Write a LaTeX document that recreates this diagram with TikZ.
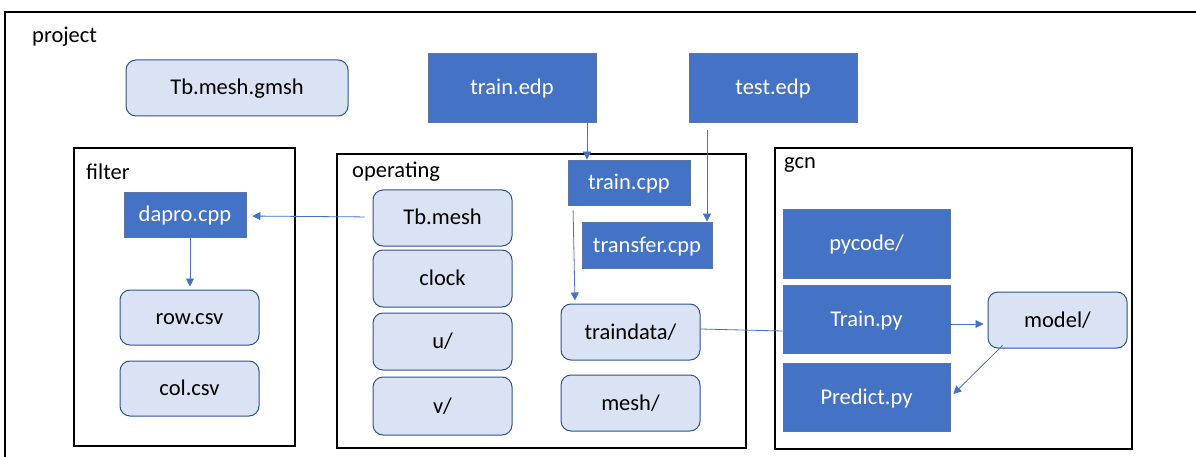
\documentclass[tikz,border=0pt]{standalone}
\usepackage{fontspec}
\setmainfont{Carlito}
\usetikzlibrary{arrows.meta}
\definecolor{accent}{HTML}{4472C4}
\definecolor{accentdark}{HTML}{2F528F}
\definecolor{pale}{HTML}{DAE3F3}
\tikzset{
  every node/.style={font=\fontsize{22.5}{26}\selectfont, inner sep=0pt},
  group/.style={draw=black, line width=1.3pt, fill=none},
  grouplabel/.style={anchor=west, text=black},
  boxtext/.style={text height=18pt, text depth=4pt},
  filebox/.style={boxtext, draw=accentdark!80, line width=0.8pt, fill=accent, text=white},
  dirbox/.style={boxtext, draw=accentdark, line width=1pt, fill=pale, text=black, rounded corners=10pt},
  arr/.style={draw=accent, line width=0.8pt, -{Triangle[length=8pt,width=8pt]}},
  link/.style={draw=accent, line width=0.8pt},
}
\begin{document}
\begin{tikzpicture}[x=1pt,y=-1pt]
\useasboundingbox (0,0) rectangle (1196,457);

% outer frame
\draw[group] (5,470) -- (5,12) -- (1210,12);
\node[grouplabel] (lproject) at (32,37) {project};

% group frames
\draw[group] (74,148) rectangle (295,446);
\node[grouplabel] (lfilter) at (86,172) {filter};
\draw[group] (337,154) rectangle (746,448);
\node[grouplabel] (loperating) at (352,172) {operating};
\draw[group] (775,148) rectangle (1132,449);
\node[grouplabel] (lgcn) at (784,165) {gcn};

% top level items
\node[dirbox, minimum width=222pt, minimum height=56pt] (gmsh) at (237,88) {Tb.mesh.gmsh};
\node[filebox, minimum width=168pt, minimum height=69pt] (trainedp) at (512,87.5) {train.edp};
\node[filebox, minimum width=168pt, minimum height=69pt] (testedp) at (773,87.5) {test.edp};

% filter
\node[filebox, minimum width=122pt, minimum height=45pt] (dapro) at (185,214.5) {dapro.cpp};
\node[dirbox, minimum width=139pt, minimum height=55pt] (row) at (189.5,317.5) {row.csv};
\node[dirbox, minimum width=139pt, minimum height=55pt] (col) at (189.5,388.5) {col.csv};

% operating
\node[dirbox, minimum width=139pt, minimum height=56pt] (tbmesh) at (442.5,218) {Tb.mesh};
\node[dirbox, minimum width=139pt, minimum height=57pt] (clock) at (442.5,278.5) {clock};
\node[dirbox, minimum width=139pt, minimum height=57pt] (u) at (442.5,341.5) {u/};
\node[dirbox, minimum width=139pt, minimum height=58pt] (v) at (442.5,406) {v/};
\node[filebox, minimum width=122pt, minimum height=45pt] (traincpp) at (629,182.5) {train.cpp};
\node[filebox, minimum width=130pt, minimum height=46pt] (transfer) at (647,245) {transfer.cpp};
\node[dirbox, minimum width=139pt, minimum height=56pt] (traindata) at (630.5,332) {traindata/};
\node[dirbox, minimum width=139pt, minimum height=56pt] (mesh) at (630.5,403) {mesh/};

% gcn
\node[filebox, minimum width=167pt, minimum height=69pt] (pycode) at (866.5,243.5) {pycode/};
\node[filebox, minimum width=167pt, minimum height=68pt] (trainpy) at (866.5,319) {Train.py};
\node[filebox, minimum width=167pt, minimum height=68pt] (predict) at (866.5,397) {Predict.py};
\node[dirbox, minimum width=139pt, minimum height=56pt] (model) at (1057.5,320) {model/};

% connectors
\draw[arr] (trainedp.south -| 587,0) -- (traincpp.north -| 587,0);
\draw[arr, shorten <=8pt] (testedp.south -| 707,0) -- (transfer.north -| 707,0);
\draw[arr, shorten <=5pt, shorten >=3pt] (traincpp.south -| 573,0) -- (traindata.north -| 575,0);
\draw[arr, shorten <=8pt, shorten >=6pt] (tbmesh.west |- 0,217) -- (dapro.east |- 0,216);
\draw[arr, shorten >=3pt] (dapro.south -| 190,0) -- (row.north -| 190,0);
\draw[link] (traindata.east |- 0,329) -- (trainpy.west |- 0,331);
\draw[arr, shorten >=4pt] (trainpy.east |- 0,324) -- (model.west |- 0,324);
\draw[arr] ([xshift=-55pt,yshift=3pt]model.south) -- ([xshift=3pt,yshift=3pt]predict.east);
\end{tikzpicture}
\end{document}
